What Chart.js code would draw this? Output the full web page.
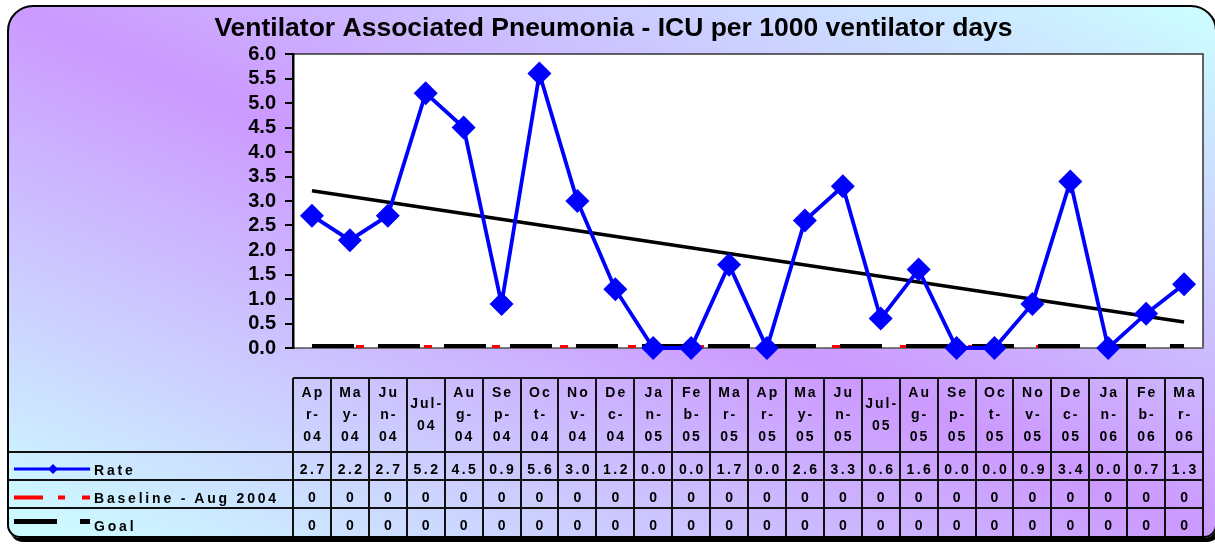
<!DOCTYPE html>
<html>
<head>
<meta charset="utf-8">
<script src="https://cdn.jsdelivr.net/npm/chart.js@4.4.1/dist/chart.umd.min.js"></script>
<style>
  body { margin: 0; width: 1215px; height: 546px; overflow: hidden; background: #fff;
         font-family: "Liberation Sans", Arial, sans-serif; }
  #frame { position: absolute; left: 7px; top: 5px; width: 1210px; height: 533px; box-sizing: border-box;
           border: 2px solid #000; border-radius: 26px 26px 13px 13px;
           background: linear-gradient(to top right, #ccffff 0%, #cc99ff 50%, #ccffff 100%);
           box-shadow: 3px 4px 0 #000; }
  #c { position: absolute; left: 0; top: 0; }
  #tbl { position: absolute; left: 0; top: 0; width: 1215px; height: 546px; }
  .ln { position: absolute; background: #111; }
  .cell { position: absolute; display: flex; flex-direction: column; justify-content: center; align-items: center;
          font-weight: bold; color: #000; }
  .hdr { font-size: 14px; line-height: 21.7px; letter-spacing: 2px; padding-left: 2px; box-sizing: border-box; }
  .val { font-size: 14px; letter-spacing: 2.5px; padding-left: 2.5px; padding-top: 5px; box-sizing: border-box; }
  .zero { letter-spacing: 0; padding-left: 0; }
  .leg { position: absolute; left: 94px; font-weight: bold; font-size: 14px; letter-spacing: 2.8px; line-height: 28px; padding-top: 4px; }
  svg { position: absolute; left: 0; top: 0; }
</style>
</head>
<body>
<div id="frame"></div>
<canvas id="c" width="1215" height="546"></canvas>
<div id="tbl"></div>
<script>
// categories
const months = ['Apr-04', 'May-04', 'Jun-04', 'Jul-04', 'Aug-04', 'Sep-04', 'Oct-04', 'Nov-04',
  'Dec-04', 'Jan-05', 'Feb-05', 'Mar-05', 'Apr-05', 'May-05', 'Jun-05', 'Jul-05', 'Aug-05',
  'Sep-05', 'Oct-05', 'Nov-05', 'Dec-05', 'Jan-06', 'Feb-06', 'Mar-06'];

// series
const rate = [2.7, 2.2, 2.7, 5.2, 4.5, 0.9, 5.6, 3.0, 1.2, 0.0, 0.0, 1.7, 0.0, 2.6, 3.3, 0.6,
  1.6, 0.0, 0.0, 0.9, 3.4, 0.0, 0.7, 1.3];
const baseline = [0, 0, 0, 0, 0, 0, 0, 0, 0, 0, 0, 0, 0, 0, 0, 0, 0, 0, 0, 0, 0, 0, 0, 0];
const goal = [0, 0, 0, 0, 0, 0, 0, 0, 0, 0, 0, 0, 0, 0, 0, 0, 0, 0, 0, 0, 0, 0, 0, 0];

// linear trend of the rate, ends
const trendStart = 3.21;
const trendEnd = 0.53;

const seriesNames = ['Rate', 'Baseline - Aug 2004', 'Goal'];

// y axis ticks
const yMin = 0;
const yMax = 6;
const yStep = 0.5;

const trend = months.map((m, i) => i === 0 ? trendStart : (i === months.length - 1 ? trendEnd : null));

const plotFrame = {
  id: 'plotFrame',
  beforeDraw(chart) {
    const a = chart.chartArea;
    const ctx = chart.ctx;
    ctx.save();
    ctx.fillStyle = '#fff';
    ctx.fillRect(a.left, a.top, a.width, a.height);
    ctx.strokeStyle = '#333';
    ctx.lineWidth = 1.5;
    ctx.strokeRect(a.left, a.top, a.width, a.height);
    ctx.restore();
  }
};

const FONT = '"Liberation Sans", Arial, sans-serif';

const chart = new Chart(document.getElementById('c'), {
  type: 'line',
  data: {
    labels: months,
    datasets: [
      {
        label: seriesNames[0],
        data: rate,
        borderColor: '#0000ff',
        backgroundColor: '#0000ff',
        borderWidth: 3.8,
        pointStyle: 'rectRot',
        pointRadius: 12,
        pointBorderWidth: 0,
        tension: 0,
        clip: false
      },
      {
        label: 'trend',
        data: trend,
        spanGaps: true,
        borderColor: '#000',
        borderWidth: 3.5,
        pointRadius: 0,
        tension: 0
      },
      {
        label: seriesNames[2],
        data: goal,
        borderColor: '#000',
        borderWidth: 8,
        borderDash: [42, 24],
        pointRadius: 0,
        clip: 0
      },
      {
        label: seriesNames[1],
        data: baseline,
        borderColor: '#ff0000',
        borderWidth: 6,
        borderDash: [8, 60],
        borderDashOffset: 24,
        pointRadius: 0,
        clip: 0
      }
    ]
  },
  options: {
    responsive: false,
    animation: false,
    events: [],
    layout: { padding: { left: 14, right: 2, top: 0, bottom: 198 } },
    plugins: {
      legend: { display: false },
      tooltip: { enabled: false },
      title: {
        display: true,
        text: 'Ventilator Associated Pneumonia - ICU per 1000 ventilator days',
        color: '#000',
        font: { family: FONT, size: 26.5, weight: 'bold' },
        padding: { top: 13.2, bottom: 9 }
      }
    },
    scales: {
      x: {
        offset: true,
        grid: { display: false },
        ticks: { display: false },
        border: { display: true, color: '#808080', width: 1.5 },
        afterFit(scale) { scale.height = 0; }
      },
      y: {
        min: yMin,
        max: yMax,
        ticks: {
          stepSize: yStep,
          autoSkip: false,
          color: '#000',
          padding: 9,
          font: { family: FONT, size: 20, weight: 'bold' },
          callback: v => v.toFixed(1)
        },
        grid: { drawOnChartArea: false, drawTicks: true, tickLength: 8, color: '#000', lineWidth: 2 },
        border: { display: true, color: '#000', width: 2.5 },
        afterFit(scale) { scale.width = 279; }
      }
    }
  },
  plugins: [plotFrame]
});

// data table under the plot, columns lined up with the x scale
const area = chart.chartArea;
const xs = chart.scales.x;
const band = xs.getPixelForValue(1) - xs.getPixelForValue(0);
const tbl = document.getElementById('tbl');
const hdrTop = 378, hdrH = 74, rowH = 28;
const rowTops = [452, 480, 508];
const tableBottom = 536;

function box(cls, x, y, w, h, html) {
  const d = document.createElement('div');
  d.className = cls;
  d.style.left = x + 'px';
  d.style.top = y + 'px';
  d.style.width = w + 'px';
  d.style.height = h + 'px';
  if (html !== undefined) d.innerHTML = html;
  tbl.appendChild(d);
  return d;
}

function wrapLabel(label) {
  const mon = label.slice(0, 3), yy = label.slice(4);
  if (mon === 'Jul') return [mon + '-', yy];
  return [mon.slice(0, 2), mon[2] + '-', yy];
}

const rows = [rate.map(v => v.toFixed(1)), baseline.map(String), goal.map(String)];

months.forEach((m, i) => {
  const x0 = xs.getPixelForValue(i) - band / 2;
  box('cell hdr', x0, hdrTop, band, hdrH, wrapLabel(m).map(s => '<div>' + s + '</div>').join(''));
  rows.forEach((r, k) => {
    box('cell val' + (k > 0 ? ' zero' : ''), x0, rowTops[k], band, rowH, r[i]);
  });
});

// grid lines
for (let i = 0; i <= months.length; i++) {
  const x = area.left + i * band;
  box('ln', x - 1, hdrTop, 2, tableBottom - hdrTop);
}
box('ln', area.left, hdrTop - 1, area.right - area.left, 2);
[452, 480, 508].forEach(y => box('ln', 8, y - 1, area.right - 8, 2));

// legend keys
seriesNames.forEach((n, k) => box('leg', 94, rowTops[k], 190, rowH, n));
const svgNS = 'http://www.w3.org/2000/svg';
const svg = document.createElementNS(svgNS, 'svg');
svg.setAttribute('width', '1215');
svg.setAttribute('height', '546');
svg.innerHTML =
  '<line x1="14" y1="469" x2="90" y2="469" stroke="#0000ff" stroke-width="3"/>' +
  '<polygon points="53,464 58,469 53,474 48,469" fill="#0000ff"/>' +
  '<line x1="14" y1="497.5" x2="90" y2="497.5" stroke="#ff0000" stroke-width="4" stroke-dasharray="29 15 7 17 8"/>' +
  '<line x1="14" y1="521.5" x2="90" y2="521.5" stroke="#000" stroke-width="5" stroke-dasharray="43 23 10"/>';
tbl.appendChild(svg);
</script>
</body>
</html>
